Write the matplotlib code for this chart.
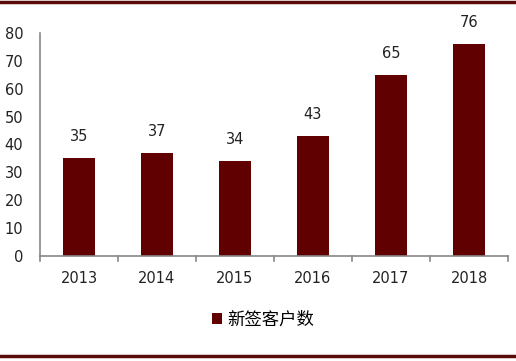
import matplotlib.pyplot as plt
from matplotlib.lines import Line2D

years = ["2013", "2014", "2015", "2016", "2017", "2018"]
new_clients = [35, 37, 34, 43, 65, 76]
y_ticks = [0, 10, 20, 30, 40, 50, 60, 70, 80]

bar_color = "#600000"
frame_color = "#5a0a0a"

fig = plt.figure(figsize=(5.16, 3.61), dpi=100)
ax = fig.add_axes([0.0775, 0.291, 0.907, 0.6175])

x = range(len(years))
bars = ax.bar(x, new_clients, width=0.4, color=bar_color, label="新签客户数")
for xi, v in zip(x, new_clients):
    ax.text(xi, v + 5, str(v), ha="center", va="bottom", fontsize=10.5, color="#222222")

ax.set_xlim(-0.5, len(years) - 0.5)
ax.set_ylim(0, 80)
ax.set_yticks(y_ticks)
ax.set_yticklabels([str(t) for t in y_ticks], fontsize=10.5, color="#222222")
ax.set_xticks(list(x))
ax.set_xticklabels(years, fontsize=10.5, color="#222222")
ax.tick_params(axis="x", length=0, pad=11)
ax.tick_params(axis="y", length=0, pad=12)
for b in [i - 0.5 for i in range(len(years) + 1)]:
    ax.plot([b, b], [0, -1.8], color="#888888", lw=1.2, clip_on=False)

for s in ["top", "right"]:
    ax.spines[s].set_visible(False)
for s in ["left", "bottom"]:
    ax.spines[s].set_color("#888888")
    ax.spines[s].set_linewidth(1.2)

leg = fig.legend(handles=[bars], loc="center", bbox_to_anchor=(0.51, 0.115),
                 frameon=False, handlelength=0.6, handleheight=0.6, handletextpad=0.3,
                 prop={"family": ["Noto Sans CJK SC", "DejaVu Sans"], "size": 12.5})

fig.add_artist(Line2D([0, 1], [0.994, 0.994], color=frame_color, lw=2.5))
fig.add_artist(Line2D([0, 1], [0.014, 0.014], color=frame_color, lw=2.5))

fig.savefig("out.png", dpi=100)
